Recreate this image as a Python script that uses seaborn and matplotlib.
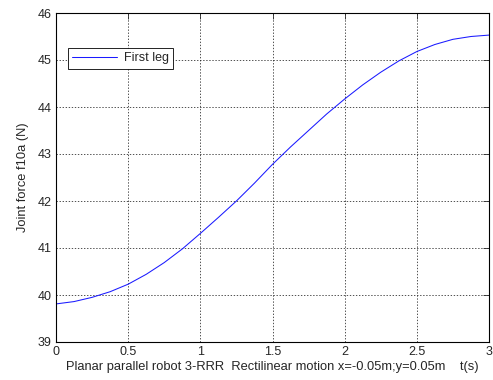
import matplotlib
matplotlib.use("Agg")
import matplotlib.pyplot as plt
import seaborn as sns
import pandas as pd

t_values = [0.0, 0.125, 0.25, 0.375, 0.5, 0.625, 0.75, 0.875, 1.0, 1.125, 1.25, 1.375,
            1.5, 1.625, 1.75, 1.875, 2.0, 2.125, 2.25, 2.375, 2.5, 2.625, 2.75, 2.875, 3.0]
force_values = [39.81, 39.86, 39.95, 40.07, 40.23, 40.44, 40.69, 40.98, 41.31, 41.65, 42.0, 42.38,
                42.78, 43.15, 43.5, 43.85, 44.17, 44.47, 44.74, 44.98, 45.18, 45.33, 45.44, 45.5, 45.53]
series_name = "First leg"
x_ticks = [0, 0.5, 1, 1.5, 2, 2.5, 3]
x_tick_labels = ["0", "0.5", "1", "1.5", "2", "2.5", "3"]
y_ticks = [39, 40, 41, 42, 43, 44, 45, 46]

sns.set_style("white")
plt.rcParams['font.family'] = ['Liberation Sans', 'DejaVu Sans']

df = pd.DataFrame({"t": t_values, "f": force_values, "s": series_name})

fig = plt.figure(figsize=(4.93, 3.80), dpi=100)
ax = fig.add_axes([56/493, 38/380, 433/493, 329/380])

sns.lineplot(data=df, x="t", y="f", hue="s", palette=["#1a1aff"], linewidth=0.75, ax=ax)

ax.set_xlim(0, 3)
ax.set_ylim(39, 46)
ax.set_xticks(x_ticks)
ax.set_xticklabels(x_tick_labels)
ax.set_yticks(y_ticks)
ax.grid(True, color="#222222", linestyle=(0, (1.8, 2.2)), linewidth=0.55)
ax.tick_params(direction="in", top=True, right=True, length=4, labelsize=9, width=0.6, pad=3)
for sp in ax.spines.values():
    sp.set_color("black")
    sp.set_linewidth(0.8)

ax.set_xlabel("Planar parallel robot 3-RRR  Rectilinear motion x=-0.05m;y=0.05m    t(s)",
              fontsize=9.3, labelpad=2)
ax.set_ylabel("Joint force f10a (N)", fontsize=9.3, labelpad=6)

leg = ax.legend(loc="upper left", bbox_to_anchor=(12/433, (342-48)/329), borderaxespad=0,
                fancybox=False, framealpha=1, edgecolor="black", fontsize=9,
                handlelength=3.6, borderpad=0.35, handletextpad=0.5)
leg.get_frame().set_linewidth(0.6)
leg.set_title(None)

fig.savefig("out.png", dpi=100)
